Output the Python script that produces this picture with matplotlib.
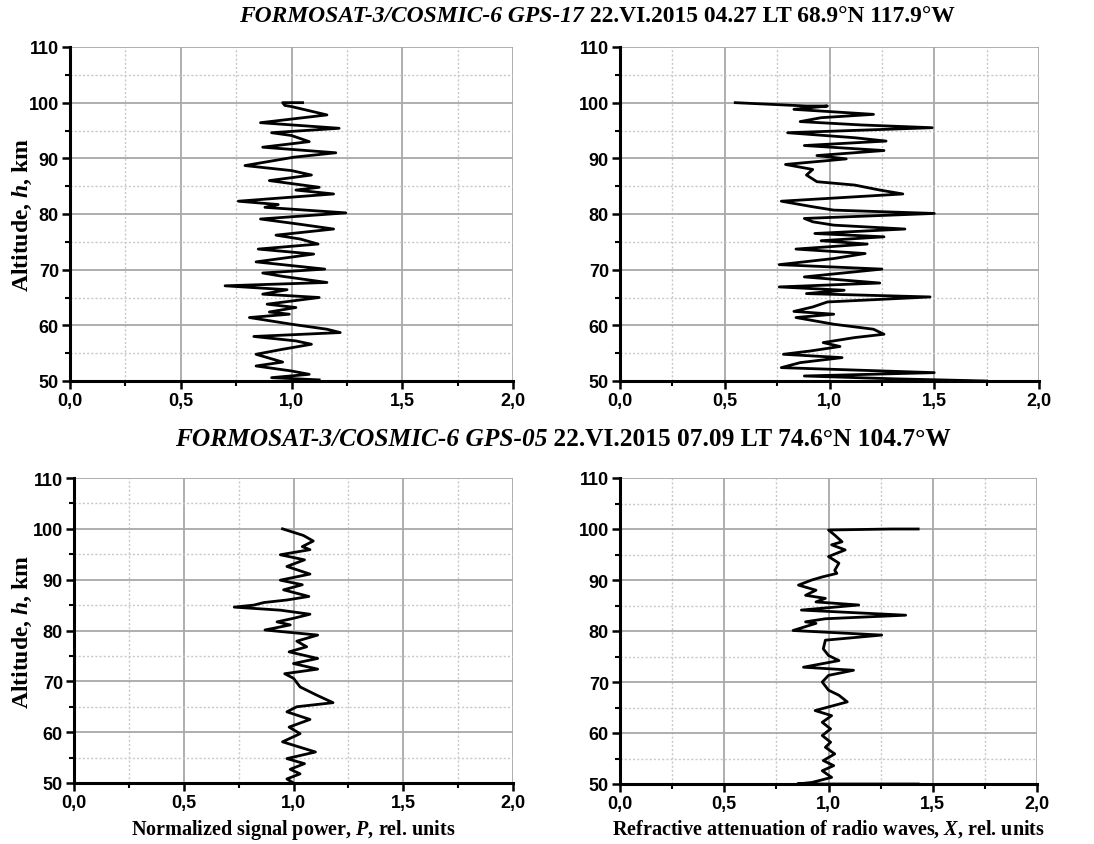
import numpy as np
import matplotlib.pyplot as plt
from matplotlib.ticker import MultipleLocator, FuncFormatter

# --- data (altitude in km, value in rel. units) ---
# GPS-17, normalized signal power P
h_p17 = [100.0, 100.0, 99.5, 99.3, 97.8, 96.4, 95.4, 94.6, 94.1, 93.0, 92.0, 91.0,
         90.2, 88.7, 87.8, 87.0, 86.0, 84.8, 84.3, 83.6, 82.3, 81.7, 81.2, 80.2,
         79.1, 78.2, 77.3, 76.2, 75.5, 74.6, 73.7, 72.8, 71.4, 70.1, 69.4, 68.8,
         67.7, 67.1, 66.4, 65.6, 65.0, 63.8, 63.2, 62.4, 62.0, 61.4, 60.2, 59.3,
         58.7, 58.0, 57.2, 56.6, 55.7, 54.8, 53.4, 52.7, 51.8, 51.2, 50.6, 50.2]
p17 = [1.05, 0.96, 0.97, 1.0, 1.16, 0.86, 1.215, 0.91, 1.0, 1.08, 0.87, 1.2,
       1.01, 0.79, 1.0, 1.09, 0.9, 1.125, 1.02, 1.19, 0.76, 0.94, 0.88, 1.245,
       0.86, 1.03, 1.19, 0.93, 1.04, 1.12, 0.85, 1.1, 0.84, 1.15, 0.87, 0.96,
       1.16, 0.70, 0.98, 0.87, 1.125, 0.89, 1.02, 0.9, 0.99, 0.81, 1.0, 1.16,
       1.22, 0.83, 1.02, 1.09, 0.96, 0.84, 0.96, 0.84, 1.0, 1.08, 0.91, 1.125]

# GPS-17, refractive attenuation X
h_x17 = [100.0, 99.4, 99.4, 98.8, 97.9, 97.3, 96.6, 96.0, 95.5, 94.6, 93.7, 93.1,
         92.3, 91.4, 90.5, 89.9, 88.9, 88.0, 87.0, 85.8, 85.2, 84.3, 83.6, 82.3,
         81.3, 80.7, 80.1, 79.2, 78.6, 78.0, 77.3, 76.5, 75.9, 75.2, 74.6, 73.7,
         72.9, 72.0, 70.9, 70.1, 68.7, 67.6, 66.9, 66.3, 65.7, 65.1, 64.2, 63.3,
         62.5, 62.0, 61.4, 60.2, 59.3, 58.4, 57.8, 56.9, 56.2, 55.4, 54.8, 54.2,
         53.3, 52.4, 51.5, 50.9, 50.4, 50.0]
x17 = [0.55, 0.89, 0.99, 0.83, 1.21, 0.96, 0.86, 1.15, 1.49, 0.80, 1.12, 1.27,
       0.88, 1.26, 0.94, 1.08, 0.79, 0.92, 0.89, 0.94, 1.12, 1.24, 1.35, 0.77,
       0.92, 1.02, 1.50, 0.88, 0.92, 1.02, 1.36, 0.93, 1.26, 0.96, 1.18, 0.84,
       1.17, 1.02, 0.76, 1.25, 0.88, 1.24, 0.76, 1.07, 0.89, 1.48, 0.99, 0.92,
       0.83, 1.02, 0.84, 1.02, 1.21, 1.26, 1.12, 0.97, 1.05, 0.91, 0.78, 1.06,
       0.86, 0.77, 1.50, 0.88, 1.30, 1.75]

# GPS-05, normalized signal power P
h_p05 = [100.0, 98.7, 97.6, 96.5, 95.9, 94.9, 93.9, 92.6, 91.1, 89.9, 89.0, 88.0,
         86.7, 86.0, 85.5, 85.0, 84.6, 84.0, 83.2, 82.4, 81.7, 81.1, 80.1, 79.1,
         77.9, 76.8, 75.8, 74.5, 73.5, 72.4, 71.5, 70.6, 68.9, 67.3, 65.8, 65.0,
         64.0, 62.5, 61.0, 59.7, 58.1, 56.1, 54.8, 53.8, 52.7, 51.8, 50.8, 50.0]
p05 = [0.95, 1.045, 1.09, 1.04, 1.075, 0.94, 1.05, 0.97, 1.075, 0.94, 1.04, 0.955,
       1.07, 0.97, 0.865, 0.82, 0.73, 0.94, 1.075, 1.0, 0.925, 0.985, 0.87, 1.11,
       1.015, 1.06, 0.98, 1.11, 1.0, 1.11, 0.96, 1.0, 1.03, 1.105, 1.18, 1.015,
       0.97, 1.075, 0.98, 1.03, 0.95, 1.1, 0.97, 1.05, 0.985, 1.03, 0.97, 1.0]

# GPS-05, refractive attenuation X
h_x05 = [100.0, 100.0, 99.8, 98.8, 97.5, 96.9, 95.9, 94.6, 93.3, 91.9, 91.3, 90.6,
         90.0, 89.0, 88.0, 87.0, 86.4, 85.7, 85.1, 84.1, 83.1, 82.4, 81.8, 81.5,
         80.1, 79.2, 78.2, 76.5, 75.2, 74.2, 72.9, 72.3, 71.3, 70.0, 68.4, 67.4,
         66.1, 64.4, 63.4, 62.1, 60.8, 59.5, 58.2, 57.2, 55.9, 54.6, 53.6, 52.6,
         51.3, 50.3, 50.0, 50.0]
x05 = [1.43, 1.30, 1.0, 1.03, 1.065, 1.015, 1.08, 1.0, 1.05, 1.03, 1.04, 0.97,
       0.92, 0.856, 0.94, 0.89, 0.985, 0.94, 1.145, 0.87, 1.37, 0.985, 0.89, 0.94,
       0.83, 1.255, 0.985, 0.975, 1.0, 1.05, 0.88, 1.12, 1.0, 0.97, 1.0, 1.05,
       1.09, 0.936, 1.015, 0.97, 1.01, 0.97, 1.01, 0.985, 1.03, 0.975, 1.025, 0.97,
       1.015, 0.92, 0.85, 1.43]

title_top = ["FORMOSAT-3/COSMIC-6 GPS-17", " 22.VI.2015 04.27 LT 68.9°N 117.9°W"]
title_bot = ["FORMOSAT-3/COSMIC-6 GPS-05", " 22.VI.2015 07.09 LT 74.6°N 104.7°W"]

W, H = 1094, 845
fig = plt.figure(figsize=(W / 100, H / 100), dpi=100)

plt.rcParams["mathtext.fontset"] = "custom"
plt.rcParams["mathtext.it"] = "Liberation Serif:italic:bold"
plt.rcParams["mathtext.bf"] = "Liberation Serif:bold"
plt.rcParams["mathtext.rm"] = "Liberation Serif:bold"


def px_axes(x0, x1, ytop, ybot):
    return fig.add_axes([x0 / W, 1 - ybot / H, (x1 - x0) / W, (ybot - ytop) / H])


comma = FuncFormatter(lambda v, pos: f"{v:.1f}".replace(".", ","))


def style(ax, x0=None):
    ax.set_xlim(0, 2.0)
    ax.set_ylim(50, 110)
    ax.xaxis.set_major_locator(MultipleLocator(0.5))
    ax.xaxis.set_minor_locator(MultipleLocator(0.25))
    ax.yaxis.set_major_locator(MultipleLocator(10))
    ax.yaxis.set_minor_locator(MultipleLocator(5))
    ax.xaxis.set_major_formatter(comma)
    ax.grid(which="major", color="#a8a8a8", lw=1.3)
    ax.grid(which="minor", color="#c8c8c8", lw=1.0, ls=(0, (1.5, 1.5)))
    ax.set_axisbelow(True)
    for s in ("top", "right"):
        ax.spines[s].set_visible(False)
    for s in ("left", "bottom"):
        ax.spines[s].set_linewidth(2.2)
    ax.tick_params(which="major", direction="out", length=6, width=1.8,
                   labelsize=13, pad=2)
    ax.tick_params(which="minor", direction="out", length=3.5, width=1.5)
    for lab in ax.get_xticklabels() + ax.get_yticklabels():
        lab.set_fontfamily("Liberation Sans")
        lab.set_fontweight("bold")
    if x0 is not None:
        ax.set_ylabel("Altitude, $\\mathit{h}$, km", family="Liberation Serif",
                      fontweight="bold", fontsize=17)
        # label centre at about x = 22 px in the figure
        ax.yaxis.set_label_coords(-(x0 - 22) / (ax.bbox.width), 0.5)


ax1 = px_axes(70, 513, 48, 382)
ax2 = px_axes(620, 1039, 48, 382)
ax3 = px_axes(74, 513, 479, 784)
ax4 = px_axes(620, 1037, 479, 785)

ax1.plot(p17, h_p17, color="black", lw=2.0, clip_on=False)
ax2.plot(x17, h_x17, color="black", lw=2.0, clip_on=False)
ax3.plot(p05, h_p05, color="black", lw=2.0, clip_on=False)
ax4.plot(x05, h_x05, color="black", lw=2.0, clip_on=False)

style(ax1, 70)
style(ax2)
style(ax3, 74)
style(ax4)
for ax in (ax1, ax3):
    ax.yaxis.label.set_va("center")

ax3.set_xlabel("Normalized signal power, $\\mathit{P}$, rel. units",
               family="Liberation Serif", fontweight="bold", fontsize=14.5, labelpad=4)
ax4.set_xlabel("Refractive attenuation of radio waves, $\\mathit{X}$, rel. units",
               family="Liberation Serif", fontweight="bold", fontsize=14.5, labelpad=4)


def two_part_title(parts, y, size, xc):
    t1 = fig.text(0.5, y, parts[0], family="Liberation Serif", style="italic",
                  fontweight="bold", fontsize=size, ha="left", va="center")
    t2 = fig.text(0.5, y, parts[1], family="Liberation Serif",
                  fontweight="bold", fontsize=size, ha="left", va="center")
    fig.canvas.draw()
    r = fig.canvas.get_renderer()
    w1 = t1.get_window_extent(r).width
    w2 = t2.get_window_extent(r).width
    x0 = xc - (w1 + w2) / 2
    t1.set_x(x0 / W)
    t2.set_x((x0 + w1) / W)


two_part_title(title_top, 1 - 16 / H, 16.9, 597)
two_part_title(title_bot, 1 - 440 / H, 18.3, 563)

fig.savefig("out.png", dpi=100)
